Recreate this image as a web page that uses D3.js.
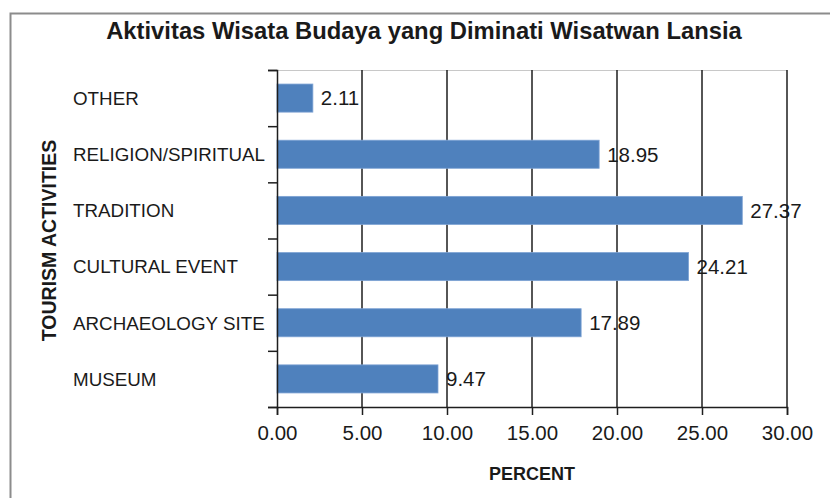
<!DOCTYPE html>
<html>
<head>
<meta charset="utf-8">
<script src="https://cdn.jsdelivr.net/npm/d3@7"></script>
<style>
html,body{margin:0;padding:0;background:#fff;}
svg{display:block;}
text{font-family:"Liberation Sans", Arial, sans-serif;fill:#1a1a1a;}
</style>
</head>
<body>
<svg id="chart" width="830" height="498"></svg>
<script>
const categories = ["OTHER","RELIGION/SPIRITUAL","TRADITION","CULTURAL EVENT","ARCHAEOLOGY SITE","MUSEUM"];
const values = [2.11, 18.95, 27.37, 24.21, 17.89, 9.47];
const xTicks = [0, 5, 10, 15, 20, 25, 30];
const titleText = "Aktivitas Wisata Budaya yang Diminati Wisatwan Lansia";
const xTitle = "PERCENT";
const yTitle = "TOURISM ACTIVITIES";

const svg = d3.select("#chart");
const plot = {left: 277, right: 787, top: 70, bottom: 407};

// outer chart border
svg.append("rect").attr("x", 10.5).attr("y", 13.5).attr("width", 840).attr("height", 500)
  .attr("fill", "none").attr("stroke", "#8c8c8c").attr("stroke-width", 2);

const x = d3.scaleLinear().domain([0, 30]).range([plot.left, plot.right]);
const y = d3.scaleBand().domain(categories).range([plot.top, plot.bottom])
  .paddingInner(0.5).paddingOuter(0.25);
const yIdx = d3.scaleLinear().domain([0, categories.length]).range([plot.top, plot.bottom]);

// plot area top border
svg.append("line").attr("x1", plot.left).attr("x2", plot.right)
  .attr("y1", plot.top + 0.5).attr("y2", plot.top + 0.5)
  .attr("stroke", "#c8c8c8").attr("stroke-width", 1);

// gridlines
svg.append("g").selectAll("line").data(xTicks.filter(d => d > 0)).join("line")
  .attr("x1", d => x(d)).attr("x2", d => x(d))
  .attr("y1", plot.top).attr("y2", plot.bottom)
  .attr("stroke", "#1e1e1e").attr("stroke-width", 1.5);

// bars
svg.append("g").selectAll("rect").data(values).join("rect")
  .attr("x", x(0))
  .attr("y", (d, i) => y(categories[i]))
  .attr("width", d => x(d) - x(0))
  .attr("height", y.bandwidth())
  .attr("fill", "#4f81bd")
  .attr("stroke", "#7ea3d4").attr("stroke-width", 0.8);

// value labels
svg.append("g").selectAll("text").data(values).join("text")
  .attr("x", d => x(d) + 8)
  .attr("y", (d, i) => y(categories[i]) + y.bandwidth() / 2)
  .attr("dy", "0.36em")
  .style("font-size", "20.5px")
  .text(d => d.toFixed(2));

// x axis
const xAxis = svg.append("g").attr("transform", `translate(0,${plot.bottom})`)
  .call(d3.axisBottom(x).tickValues(xTicks).tickFormat(d3.format(".2f")).tickSize(8).tickPadding(10));
xAxis.select(".domain").attr("stroke", "#1e1e1e").attr("stroke-width", 1.5);
xAxis.selectAll(".tick line").attr("stroke", "#1e1e1e").attr("stroke-width", 1.5);
xAxis.selectAll("text").attr("font-family", null).style("font-size", "20.5px").style("fill", "#1a1a1a");

// y axis (ticks at category boundaries)
const yAxis = svg.append("g").attr("transform", `translate(${plot.left},0)`)
  .call(d3.axisLeft(yIdx).ticks(categories.length).tickFormat("").tickSize(9));
yAxis.select(".domain").attr("stroke", "#1e1e1e").attr("stroke-width", 1.5);
yAxis.selectAll(".tick line").attr("stroke", "#1e1e1e").attr("stroke-width", 1.5);

// category labels
svg.append("g").selectAll("text").data(categories).join("text")
  .attr("x", 73)
  .attr("y", d => y(d) + y.bandwidth() / 2)
  .attr("dy", "0.36em")
  .style("font-size", "18.8px")
  .text(d => d);

// title
svg.append("text").attr("x", 424).attr("y", 39).attr("text-anchor", "middle")
  .style("font-size", "23.8px").style("font-weight", "bold").text(titleText);

// x title
svg.append("text").attr("x", (plot.left + plot.right) / 2).attr("y", 480).attr("text-anchor", "middle")
  .style("font-size", "18px").style("font-weight", "bold").text(xTitle);

// y title
svg.append("text").attr("transform", `translate(56,${(plot.top + plot.bottom) / 2 + 2}) rotate(-90)`)
  .attr("text-anchor", "middle")
  .style("font-size", "19.5px").style("font-weight", "bold").text(yTitle);
</script>
</body>
</html>
